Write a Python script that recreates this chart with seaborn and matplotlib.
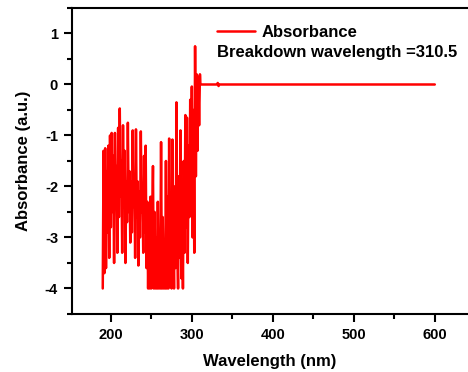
import numpy as np
import pandas as pd
import matplotlib
matplotlib.use("Agg")
import matplotlib.pyplot as plt
import seaborn as sns
from matplotlib.ticker import MultipleLocator

# noisy part of the spectrum, 1 nm steps from 190 to 310 nm
noisy_wavelength = list(range(190, 311))
noisy_absorbance = [
    -4.0, -1.3, -3.7, -1.25, -3.6, -1.7, -2.9, -1.2, -3.4, -1.0,   # 190-199
    -2.8, -0.95, -2.5, -1.4, -3.5, -0.95, -2.3, -1.6, -3.3, -0.85,  # 200-209
    -2.6, -0.47, -2.2, -1.5, -3.3, -0.8, -2.4, -1.3, -3.5, -1.9,    # 210-219
    -2.7, -0.75, -2.5, -1.7, -3.1, -1.9, -2.9, -0.9, -2.4, -1.8,    # 220-229
    -3.4, -0.88, -2.6, -1.9, -3.55, -2.1, -3.0, -0.92, -2.5, -2.0,  # 230-239
    -3.3, -1.4, -2.9, -1.2, -3.6, -2.3, -4.0, -2.6, -4.0, -2.2,     # 240-249
    -4.0, -2.8, -1.6, -4.0, -2.5, -4.0, -3.0, -4.0, -2.3, -4.0,     # 250-259
    -3.4, -4.0, -1.13, -4.0, -2.6, -4.0, -3.2, -4.0, -1.5, -4.0,    # 260-269
    -2.2, -4.0, -1.06, -3.6, -2.4, -4.0, -1.08, -3.0, -4.0, -2.0,   # 270-279
    -3.6, -0.35, -3.2, -4.0, -1.8, -3.4, -0.9, -3.8, -2.2, -4.0,    # 280-289
    -1.5, -3.3, -0.6, -2.8, -0.65, -3.5, -1.2, -2.6, -0.3, -2.2,    # 290-299
    -0.04, -3.0, -0.5, -3.3, 0.75, -1.8, 0.2, -1.3, 0.15, -0.8,     # 300-309
    0.2,                                                            # 310
]

# flat part after the breakdown wavelength
flat_wavelength = [310.5, 312, 331, 332, 333, 334, 600]
flat_absorbance = [0.0, 0.0, 0.0, 0.03, -0.03, 0.0, 0.0]

df = pd.DataFrame({
    'wavelength': noisy_wavelength + flat_wavelength,
    'absorbance': noisy_absorbance + flat_absorbance,
})

sns.set_style("ticks")
plt.rcParams['font.family'] = ['Liberation Sans', 'DejaVu Sans']
plt.rcParams['font.weight'] = 'bold'
plt.rcParams['axes.unicode_minus'] = False
for key in ['text.color', 'axes.labelcolor', 'xtick.color', 'ytick.color']:
    plt.rcParams[key] = 'black'

fig = plt.figure(figsize=(4.68, 3.72), dpi=100)
ax = fig.add_axes([0.1538, 0.156, 0.8462, 0.8225])

sns.lineplot(data=df, x='wavelength', y='absorbance', color='#ff0000',
             linewidth=1.8, sort=False, estimator=None, ax=ax,
             label='Absorbance')

ax.set_xlim(152, 641)
ax.set_ylim(-4.5, 1.5)
ax.xaxis.set_major_locator(MultipleLocator(100))
ax.xaxis.set_minor_locator(MultipleLocator(50))
ax.yaxis.set_major_locator(MultipleLocator(1))
ax.yaxis.set_minor_locator(MultipleLocator(0.5))

ax.tick_params(which='major', direction='out', length=6, width=1.5,
               labelsize=10.5, color='black', labelcolor='black', pad=4)
ax.tick_params(which='minor', direction='out', length=3.5, width=1.5,
               color='black')
for lab in ax.get_xticklabels() + ax.get_yticklabels():
    lab.set_fontweight('bold')

for side in ['left', 'bottom', 'top']:
    ax.spines[side].set_visible(True)
    ax.spines[side].set_linewidth(1.5)
    ax.spines[side].set_color('black')
ax.spines['right'].set_visible(False)

ax.set_xlabel('Wavelength (nm)', fontsize=12, fontweight='bold', labelpad=9)
ax.set_ylabel('Absorbance (a.u.)', fontsize=12, fontweight='bold', labelpad=10)

ax.legend(loc='upper left', bbox_to_anchor=(0.366, 0.945), frameon=False,
          borderpad=0, borderaxespad=0, handlelength=2.3, handletextpad=0.4,
          prop={'size': 12, 'weight': 'bold'})
ax.text(0.366, 0.84, 'Breakdown wavelength =310.5', transform=ax.transAxes,
        fontsize=12, fontweight='bold', va='baseline', ha='left')

fig.savefig('out.png', dpi=100)
plt.close(fig)
